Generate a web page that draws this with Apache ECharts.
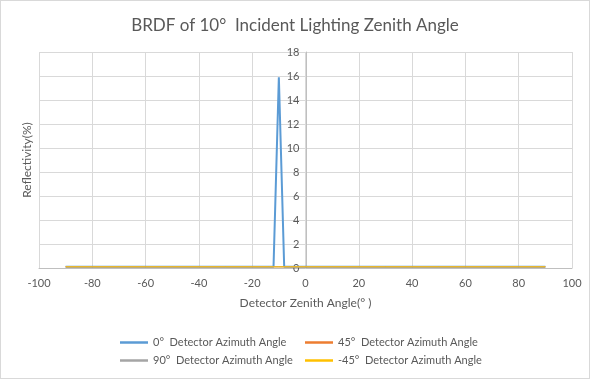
<!DOCTYPE html>
<html><head><meta charset="utf-8">
<script src="https://cdn.jsdelivr.net/npm/echarts@6/dist/echarts.min.js"></script>
<style>html,body{margin:0;padding:0;background:#fff}#c{width:590px;height:379px;box-sizing:border-box;border:1px solid #D9D9D9}</style>
</head><body><div id="c"></div>
<script>
const angles = [-90,-80,-70,-60,-50,-40,-30,-20,-14,-12,-10,-8,-6,0,10,20,30,40,50,60,70,80,90];
const az0   = [0.1,0.1,0.1,0.1,0.1,0.1,0.1,0.1,0.1,0.1,15.9,0.1,0.1,0.1,0.1,0.1,0.1,0.1,0.1,0.1,0.1,0.1,0.1];
const az45  = [0.1,0.1,0.1,0.1,0.1,0.1,0.1,0.1,0.1,0.1,0.1,0.1,0.1,0.1,0.1,0.1,0.1,0.1,0.1,0.1,0.1,0.1,0.1];
const az90  = [0.1,0.1,0.1,0.1,0.1,0.1,0.1,0.1,0.1,0.1,0.1,0.1,0.1,0.1,0.1,0.1,0.1,0.1,0.1,0.1,0.1,0.1,0.1];
const azm45 = [0.1,0.1,0.1,0.1,0.1,0.1,0.1,0.1,0.1,0.1,0.1,0.1,0.1,0.1,0.1,0.1,0.1,0.1,0.1,0.1,0.1,0.1,0.1];
const names = ['0°  Detector Azimuth Angle','45°  Detector Azimuth Angle','90°  Detector Azimuth Angle','-45°  Detector Azimuth Angle'];
const colors = ['#5B9BD5','#ED7D31','#A5A5A5','#FFC000'];
const pair = (ys) => angles.map((x,i)=>[x,ys[i]]);
const font = 'Lato, "Open Sans", sans-serif';
const txt = '#595959';
const chart = echarts.init(document.getElementById('c'));
const mk = (name, ys, color, w) => ({
  name, type:'line', data: pair(ys), symbol:'none', smooth:false,
  lineStyle:{color, width:w}, itemStyle:{color}
});
const gl = 38, gr = 17;
const half = (590 - gl - gr) / 2;
chart.setOption({
  animation:false,
  textStyle:{fontFamily:font},
  title:{text:'BRDF of 10°  Incident Lighting Zenith Angle', left:'center', top:11,
    textStyle:{fontFamily:font, fontSize:17, fontWeight:'normal', color:txt}},
  grid:{left:gl, right:gr, top:51, bottom:110, outerBoundsMode:'none', containLabel:false},
  legend:[
    {data:[names[0],names[2]], orient:'vertical', left:114, top:331, itemWidth:28, itemHeight:2.5, itemGap:7,
     icon:'rect', textStyle:{fontFamily:font, fontSize:11, color:txt}},
    {data:[names[1],names[3]], orient:'vertical', left:299, top:331, itemWidth:28, itemHeight:2.5, itemGap:7,
     icon:'rect', textStyle:{fontFamily:font, fontSize:11, color:txt}}
  ],
  xAxis:{type:'value', min:-100, max:100, interval:20,
    name:'Detector Zenith Angle(° )', nameLocation:'middle', nameGap:29,
    nameTextStyle:{fontFamily:font, fontSize:12, color:txt},
    axisLine:{onZero:false, lineStyle:{color:'#BFBFBF'}}, axisTick:{show:false},
    axisLabel:{fontFamily:font, fontSize:11, color:txt, margin:10},
    splitLine:{lineStyle:{color:'#D9D9D9'}}},
  yAxis:{type:'value', min:0, max:18, interval:2, offset:-half,
    name:'Reflectivity(%)', nameLocation:'middle', nameGap:half + 6, nameRotate:90,
    nameTextStyle:{fontFamily:font, fontSize:12, color:txt},
    axisLine:{show:true, onZero:false, lineStyle:{color:'#BFBFBF'}}, axisTick:{show:false},
    axisLabel:{fontFamily:font, fontSize:11, color:txt, margin:7},
    splitLine:{lineStyle:{color:'#D9D9D9'}}},
  series:[mk(names[0],az0,colors[0],2), mk(names[1],az45,colors[1],1), mk(names[2],az90,colors[2],1), mk(names[3],azm45,colors[3],1)]
});
</script></body></html>
